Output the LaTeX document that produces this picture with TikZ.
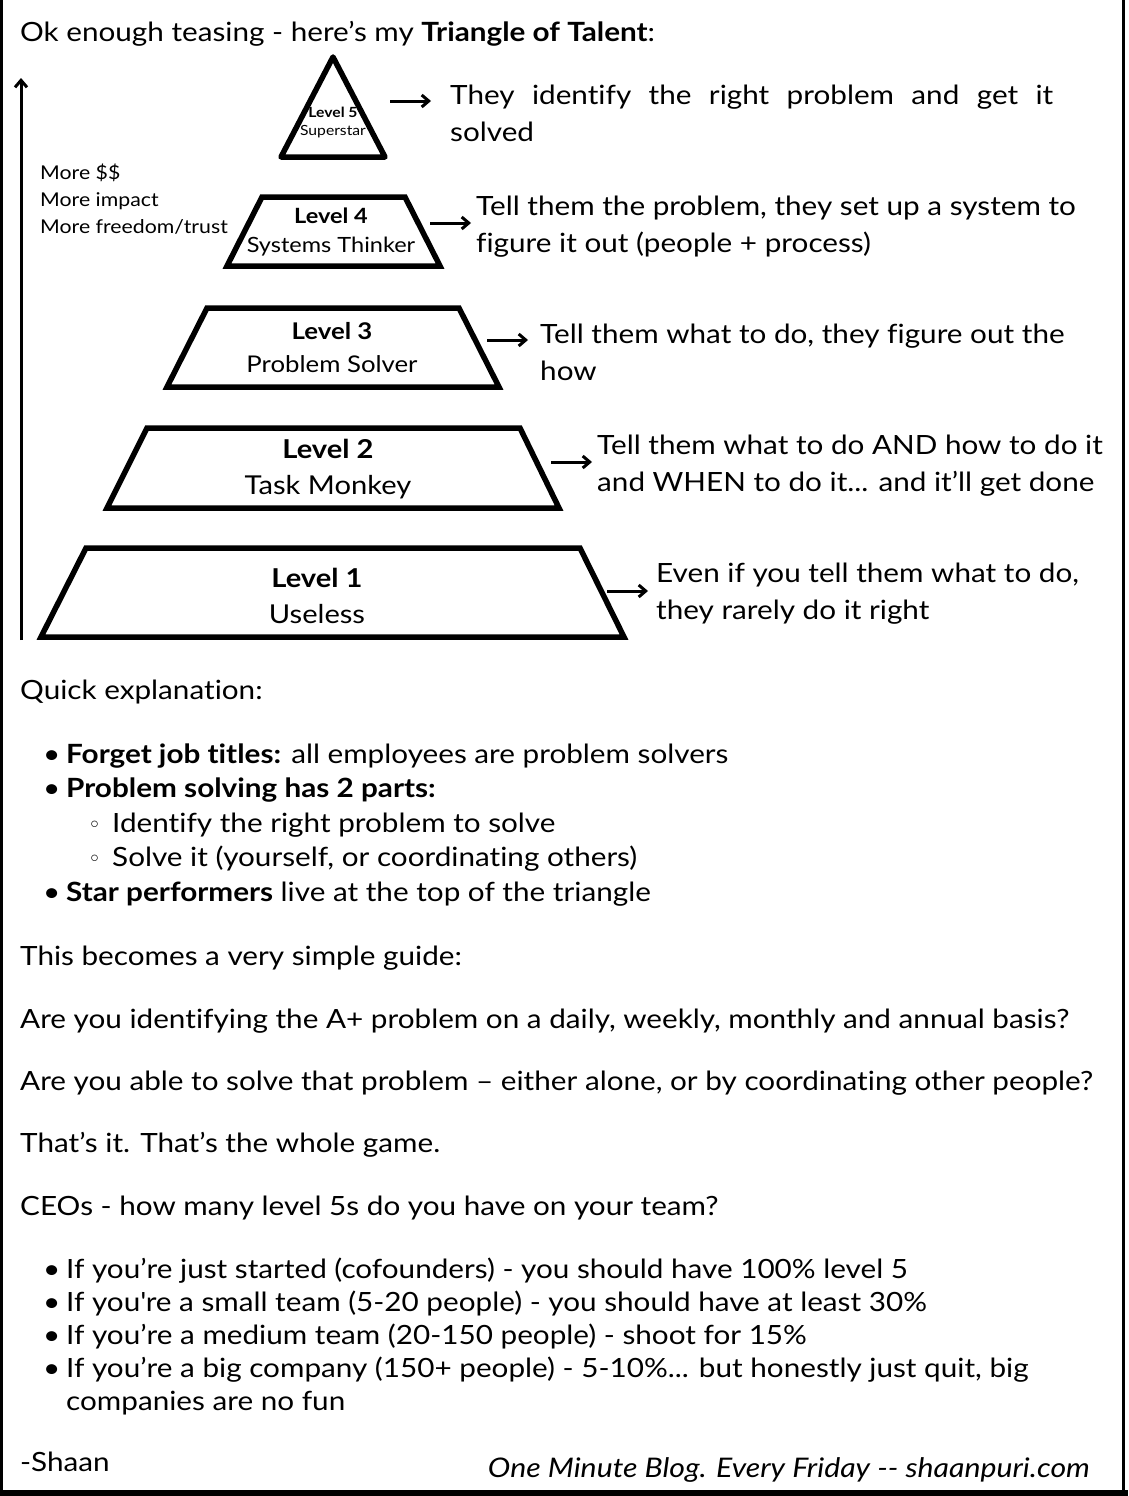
\documentclass[tikz,border=0pt]{standalone}
\usepackage{fontspec}
\setmainfont[FakeStretch=1.12,Ligatures={TeX,NoCommon}]{Lato}
\newfontfamily\symfont{DejaVu Sans}
\usetikzlibrary{arrows.meta,positioning}

\begin{document}
\begin{tikzpicture}[x=1pt,y=-1pt,
  body/.style={anchor=base west,inner sep=0pt,font=\fontsize{26.5}{33}\selectfont},
  desc/.style={anchor=west,inner sep=0pt,align=left,font=\fontsize{26.5}{37}\selectfont},
  tier/.style={line width=5.5pt,line join=miter},
  lvl/.style={inner sep=0pt,align=center},
  pointer/.style={-{Straight Barb[length=7pt,width=12pt]},line width=3pt}
]
  \useasboundingbox (0,0) rectangle (1128,1496);
  \fill[white] (0,0) rectangle (1128,1496);
  % frame
  \fill[black] (0,0) rectangle (3,1496);
  \fill[black] (1122,0) rectangle (1125,1496);
  \fill[black] (0,1490) rectangle (1128,1496);

  \node[body] (title) at (20,42) {Ok enough teasing - here’s my \textbf{Triangle of Talent}:};

  % pyramid
  \draw[tier,line join=round] (333,57) -- (385,157) -- (281,157) -- cycle;
  \draw[tier] (262,197) -- (405,197) -- (440,266) -- (227,266) -- cycle;
  \draw[tier] (207,308) -- (459,308) -- (499,387) -- (167,387) -- cycle;
  \draw[tier] (147,428) -- (520,428) -- (559,508) -- (107,508) -- cycle;
  \draw[tier] (86,548) -- (580,548) -- (624,637) -- (41,637) -- cycle;

  \node[lvl,font=\fontsize{14}{18}\selectfont] (l5) at (333,122) {\textbf{Level 5}\\Superstar};
  \node[lvl,font=\fontsize{21}{29}\selectfont] (l4) at (331,232) {\textbf{Level 4}\\Systems Thinker};
  \node[lvl,font=\fontsize{23}{33}\selectfont] (l3) at (332,348) {\textbf{Level 3}\\Problem Solver};
  \node[lvl,font=\fontsize{26}{36}\selectfont] (l2) at (328,469) {\textbf{Level 2}\\Task Monkey};
  \node[lvl,font=\fontsize{26}{36}\selectfont] (l1) at (317,596) {\textbf{Level 1}\\Useless};

  % what each level does
  \node[desc] (d5) at (450,113) {\makebox[603pt][s]{They identify the right problem and get it}\\solved};
  \node[desc] (d4) at (476,227) {Tell them the problem, they set up a system to\\figure it out (people + process)};
  \node[desc] (d3) at (540,352) {Tell them what to do, they figure out the\\how};
  \node[desc] (d2) at (597,466) {Tell them what to do AND how to do it\\and WHEN to do it... and it’ll get done};
  \node[desc] (d1) at (656,594) {Even if you tell them what to do,\\they rarely do it right};

  \coordinate (a5) at (390,101);
  \coordinate (a4) at (430,223);
  \coordinate (a3) at (487,340);
  \coordinate (a2) at (551,462);
  \coordinate (a1) at (607,591);
  \draw[pointer,shorten >=19pt] (a5) -- (a5 -| d5.west);
  \draw[pointer,shorten >=5pt] (a4) -- (a4 -| d4.west);
  \draw[pointer,shorten >=12pt] (a3) -- (a3 -| d3.west);
  \draw[pointer,shorten >=5pt] (a2) -- (a2 -| d2.west);
  \draw[pointer,shorten >=8pt] (a1) -- (a1 -| d1.west);

  % axis
  \coordinate (axbot) at (21,640);
  \coordinate (axtop) at (21,78);
  \draw[pointer] (axbot) -- (axtop);
  \node[anchor=west,inner sep=0pt,align=left,font=\fontsize{19}{27}\selectfont] (more) at (40,199)
    {More \$\$\\More impact\\More freedom/trust};

  % text below
  \node[body] (quick) at (20,699) {Quick explanation:};
  \node[body] (b1) at (43,763) {\makebox[23pt][l]{•}\textbf{Forget job titles:} all employees are problem solvers};
  \node[body] (b2) at (43,797) {\makebox[23pt][l]{•}\textbf{Problem solving has 2 parts:}};
  \node[body] (b2a) at (88,832) {\makebox[24pt][l]{\symfont\fontsize{22}{24}\selectfont ◦}Identify the right problem to solve};
  \node[body] (b2b) at (88,866) {\makebox[24pt][l]{\symfont\fontsize{22}{24}\selectfont ◦}Solve it (yourself, or coordinating others)};
  \node[body] (b3) at (43,901) {\makebox[23pt][l]{•}\textbf{Star performers} live at the top of the triangle};

  \node[body] (guide) at (20,965) {This becomes a very simple guide:};
  \node[body] (q1) at (20,1028) {Are you identifying the A+ problem on a daily, weekly, monthly and annual basis?};
  \node[body] (q2) at (20,1090) {Are you able to solve that problem – either alone, or by coordinating other people?};
  \node[body] (game) at (20,1152) {That’s it. That’s the whole game.};
  \node[body] (ceos) at (20,1215) {CEOs - how many level 5s do you have on your team?};

  \node[body] (c1) at (43,1278) {\makebox[23pt][l]{•}If you’re just started (cofounders) - you should have 100\% level 5};
  \node[body] (c2) at (43,1311) {\makebox[23pt][l]{•}If you\textquotesingle re a small team (5-20 people) - you should have at least 30\%};
  \node[body] (c3) at (43,1344) {\makebox[23pt][l]{•}If you’re a medium team (20-150 people) - shoot for 15\%};
  \node[body] (c4) at (43,1377) {\makebox[23pt][l]{•}If you’re a big company (150+ people) - 5-10\%... but honestly just quit, big};
  \node[body] (c4b) at (66,1410) {companies are no fun};

  \node[body] (sign) at (20,1471) {-Shaan};
  \node[body,anchor=base east,font=\fontsize{27}{33}\selectfont\itshape] (blog) at (1090,1477)
    {One Minute Blog. Every Friday -{}- shaanpuri.com};
\end{tikzpicture}
\end{document}
